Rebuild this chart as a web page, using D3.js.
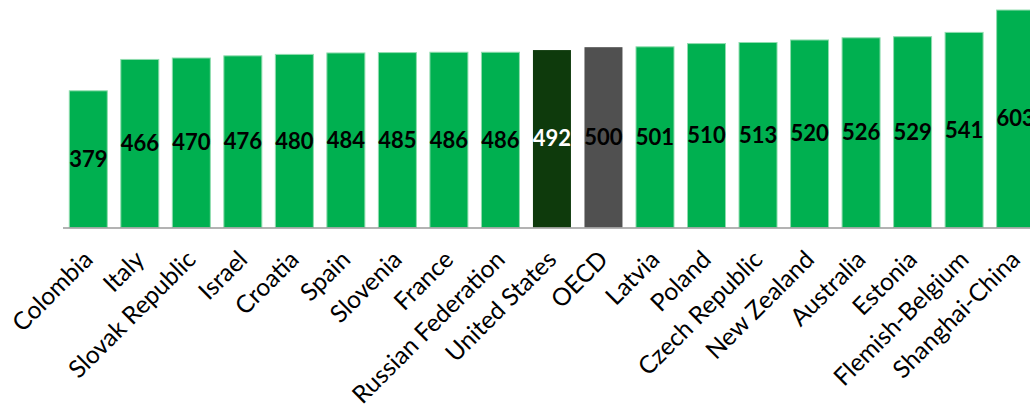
<!DOCTYPE html>
<html><head><meta charset="utf-8">
<script src="https://cdn.jsdelivr.net/npm/d3@7"></script>
<style>html,body{margin:0;padding:0;background:#fff;overflow:hidden}</style>
</head><body>
<svg id="c" width="1030" height="409"></svg>
<script>
const categories = ["Colombia","Italy","Slovak Republic","Israel","Croatia","Spain","Slovenia","France","Russian Federation","United States","OECD","Latvia","Poland","Czech Republic","New Zealand","Australia","Estonia","Flemish-Belgium","Shanghai-China"];
const values = [379,466,470,476,480,484,485,486,486,492,500,501,510,513,520,526,529,541,603];
const highlight = {"United States":"us","OECD":"oecd"};
const colors = {def:"#00b050", us:"#0e3a0c", oecd:"#505050"};
const labelColors = {def:"#000", us:"#fff", oecd:"#000"};

const svg = d3.select("#c");
const font = "Lato, 'Open Sans', sans-serif";
const x = d3.scaleBand().domain(categories).range([63, 1040.9]).paddingInner(0.2624).paddingOuter(0.122);
const y = d3.scaleLinear().domain([0, 630]).range([227.5, 0.3]);
const data = categories.map((c,i)=>({c, v:values[i], k: highlight[c]||"def"}));

svg.append("g").selectAll("rect").data(data).join("rect")
  .attr("x", d=>x(d.c)).attr("width", x.bandwidth())
  .attr("y", d=>y(d.v)).attr("height", d=>y(0)-y(d.v))
  .attr("fill", d=>colors[d.k])
  .attr("stroke", d=>d.k==="def"?"#8fdcae":"none").attr("stroke-width",1);

svg.append("line").attr("x1",63).attr("x2",1040).attr("y1",228).attr("y2",228)
  .attr("stroke","#9a9a9a").attr("stroke-width",1.5);

svg.append("g").selectAll("text").data(data).join("text")
  .attr("x", d=>x(d.c)+x.bandwidth()/2)
  .attr("y", d=>(y(d.v)+y(0))/2)
  .attr("dy","0.35em").attr("text-anchor","middle")
  .attr("font-family",font).attr("font-weight","bold").attr("font-size",22)
  .attr("fill", d=>labelColors[d.k]).text(d=>d.v);

svg.append("g").selectAll("text").data(data).join("text")
  .attr("transform", d=>`translate(${x(d.c)+x.bandwidth()/2},${255}) rotate(-45)`)
  .attr("dy","0.35em").attr("text-anchor","end")
  .attr("font-family",font).attr("font-size",24.5).attr("fill","#000")
  .text(d=>d.c);
</script>
</body></html>
